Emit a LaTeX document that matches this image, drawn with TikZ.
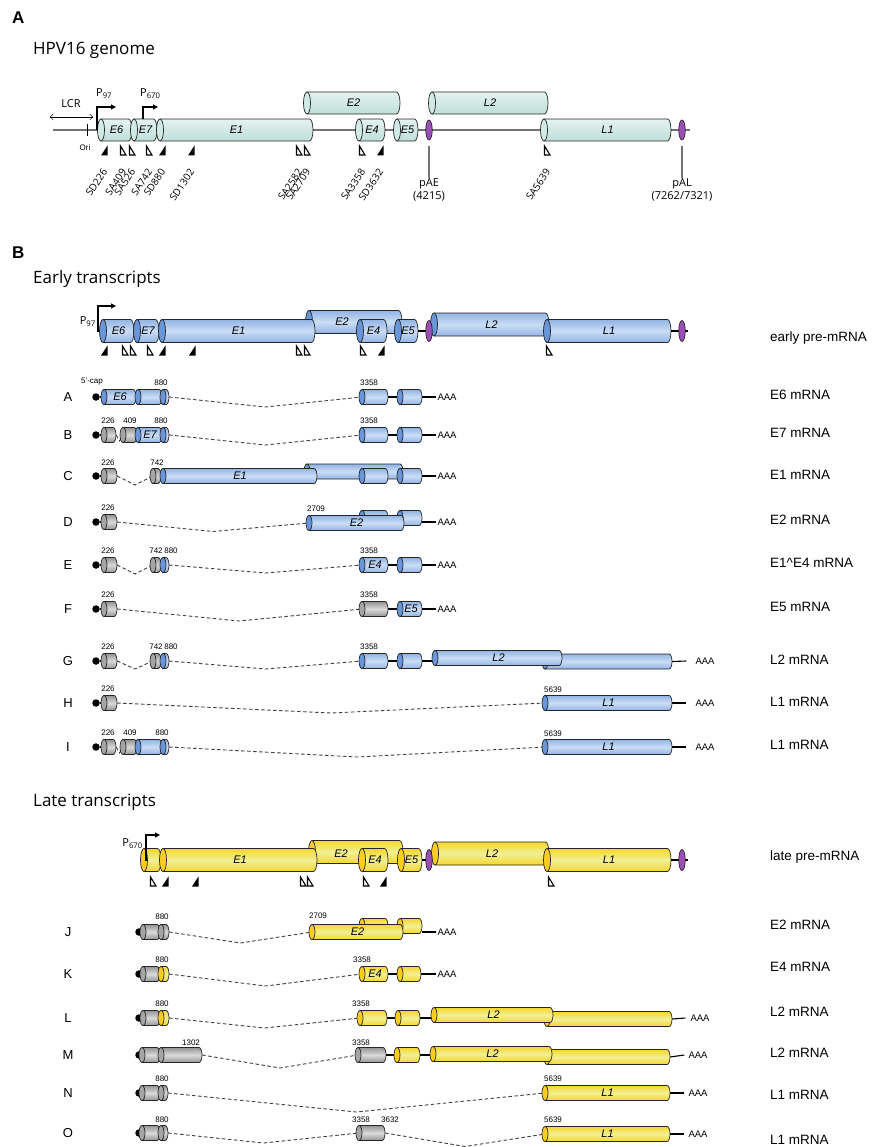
\documentclass[tikz,border=0pt]{standalone}
\usepackage{fontspec}
\setmainfont{Liberation Sans}
\newfontfamily\myriad{Open Sans}
\usetikzlibrary{shapes.geometric, arrows.meta, positioning, backgrounds, calc}
\definecolor{tealL}{RGB}{228,243,240}
\definecolor{tealD}{RGB}{190,222,216}
\definecolor{tealM}{RGB}{208,234,229}
\definecolor{blueD}{RGB}{146,180,228}
\definecolor{blueL}{RGB}{203,221,244}
\definecolor{blueC}{RGB}{104,150,216}
\definecolor{yelD}{RGB}{247,214,45}
\definecolor{yelL}{RGB}{240,240,150}
\definecolor{yelC}{RGB}{250,205,30}
\definecolor{grD}{RGB}{148,148,148}
\definecolor{grL}{RGB}{218,218,218}
\definecolor{grC}{RGB}{165,165,165}
\definecolor{purp}{RGB}{155,80,182}

% exon cylinder: [style]{name}{x left}{x right}{y}{label}
\def\eh{11}
\def\ec{3.5}
\newcommand{\exon}[6][exB]{%
  \path[#1] (#3,#5-\eh) -- ({#4-\ec},#5-\eh)
    arc[start angle=-90, end angle=90, x radius=\ec, y radius=\eh] -- (#3,#5+\eh) -- cycle;
  \path[#1cap] (#3,#5) ellipse[x radius=\ec, y radius=\eh];
  \node[exlbl, minimum width={#4pt-#3pt}, minimum height={2pt*\eh}] (#2) at ({(#3+#4)/2},#5) {#6};
}
\newcommand{\link}[2]{\begin{pgfonlayer}{background}\draw[ln] (#1) -- (#2);\end{pgfonlayer}}
\newcommand{\intron}[3][10]{\begin{pgfonlayer}{background}
  \draw[spl] (#2.east) -- ($(#2.east)!0.5!(#3.west)+(0,#1)$) -- (#3.west);\end{pgfonlayer}}

\begin{document}
\begin{tikzpicture}[x=1pt, y=-1pt,
    exA/.style={draw=black!85, line width=0.7pt, top color=tealL, bottom color=tealD},
    exAcap/.style={draw=black!85, line width=0.7pt, fill=tealM},
    exB/.style={draw=black!85, line width=0.7pt, top color=blueD, bottom color=blueD, middle color=blueL},
    exBcap/.style={draw=black!85, line width=0.7pt, fill=blueC},
    exY/.style={draw=black!85, line width=0.7pt, top color=yelD, bottom color=yelD, middle color=yelL},
    exYcap/.style={draw=black!85, line width=0.7pt, fill=yelC},
    exG/.style={draw=black!85, line width=0.7pt, top color=grD, bottom color=grD, middle color=grL},
    exGcap/.style={draw=black!85, line width=0.7pt, fill=grC},
    exlbl/.style={inner sep=0pt, font=\fontsize{11}{12}\selectfont\itshape},
    pa/.style={ellipse, draw=black!85, line width=0.7pt, fill=purp, inner sep=0pt, minimum width=6.5pt, minimum height=20pt},
    gline/.style={draw=black!55, line width=1.4pt},
    ln/.style={draw=black, line width=1.1pt},
    spl/.style={draw=black!75, line width=0.9pt, dash pattern=on 3.5pt off 2.5pt},
    prom/.style={draw=black, line width=1.1pt, -{Triangle[length=5pt, width=5pt]}},
    capdot/.style={circle, fill=black, inner sep=0pt, minimum size=7.5pt},
    num/.style={inner sep=0pt, font=\fontsize{8}{9}\selectfont},
    aaa/.style={inner sep=1pt, font=\fontsize{9.5}{10}\selectfont},
    rowl/.style={inner sep=0pt, font=\fontsize{13}{14}\selectfont},
    mrna/.style={anchor=west, inner sep=0pt, font=\fontsize{13.5}{15}\selectfont},
    head/.style={anchor=west, inner sep=0pt, font=\bfseries\fontsize{17}{20}\selectfont},
    title/.style={anchor=west, inner sep=0pt, font=\myriad\fontsize{17}{20}\selectfont},
    lab/.style={inner sep=0pt, font=\myriad\fontsize{11}{13}\selectfont},
    site/.style={inner sep=0pt, font=\myriad\fontsize{10}{12}\selectfont, anchor=east, rotate=56},
    donor/.pic={\fill[black] (3.5,-5.5) -- (3.5,4.5) -- (-3,4.5) -- cycle;},
    acceptor/.pic={\draw[line width=1.1pt, line join=miter] (-2.5,-5) -- (-2.5,4) -- (3,4) -- cycle;}]
\useasboundingbox (0,0) rectangle (875,1147);
\begin{pgfonlayer}{background}
  \fill[white] (0,0) rectangle (875,1147);
\end{pgfonlayer}

% ---------- A: genome
\node[head] (hA) at (12,18) {A};
\node[title] (tA) at (33,50) {HPV16 genome};
\coordinate (gl) at (53,130);
\coordinate (gr) at (690,130);
\draw[gline] (gl) -- (gr);
\coordinate (lcrL) at (50,117);
\coordinate (lcrR) at (93,117);
\draw[thin, {Straight Barb[length=3pt]}-{Straight Barb[length=3pt]}] (lcrL) -- (lcrR);
\node[lab] (lcr) at (71,104) {LCR};
\draw[thin] (87,124) -- (87,136);
\node[num] (ori) at (85,148) {Ori};
\exon[exA]{a6}{101}{132}{130}{E6}
\exon[exA]{a7}{134}{157}{130}{E7}
\exon[exA]{a1}{160}{313}{130}{E1}
\exon[exA]{a4}{359}{385}{130}{E4}
\exon[exA]{a5}{397}{418}{130}{E5}
\exon[exA]{aL1}{544}{671}{130}{L1}
\exon[exA]{a2}{307}{400}{103}{E2}
\exon[exA]{aL2}{432}{548}{103}{L2}
\node[pa] (pAE) at (429,130) {};
\node[pa] (pAL) at (682,130) {};
\draw[prom] (97,130) |- (116,107);
\node[lab, anchor=west] (p97) at (96,94) {P\textsubscript{97}};
\draw[prom] (143,119) |- (158,107);
\node[lab, anchor=west] (p670) at (140,94) {P\textsubscript{670}};
\node[lab, anchor=north, align=center] (pAEl) at (429,178) {pAE\\(4215)};
\node[lab, anchor=north, align=center] (pALl) at (682,178) {pAL\\(7262/7321)};
\draw[gline] ($(pAE.south)+(0,6)$) -- (pAEl.north);
\draw[gline] ($(pAL.south)+(0,6)$) -- (pALl.north);
\foreach \x in {104,162,191,380} \pic at (\x,151) {donor};
\foreach \x in {123,132,149,299,307,362,547} \pic at (\x,151) {acceptor};
\foreach \x/\t in {104/SD226, 123/SA409, 132/SA526, 149/SA742, 162/SD880, 191/SD1302,
    299/SA2582, 307/SA2709, 362/SA3358, 380/SD3632, 547/SA5639}
  \node[site] at (\x+1,170) {\t};

% ---------- B: early transcripts
\node[head] (hB) at (12,253) {B};
\node[title] (tB) at (33,279) {Early transcripts};
\def\eh{11.5}
\exon{b2}{309}{402}{322}{}
\exon{b6}{103}{134}{331}{E6}
\exon{b7}{137}{159}{331}{E7}
\exon{b1}{162}{315}{331}{E1}
\exon{b4}{360}{387}{331}{E4}
\exon{b5}{398}{418}{331}{E5}
\exon{bL2}{434}{549}{324.5}{L2}
\exon{bL1}{547}{671}{331}{L1}
\node[exlbl] (b2l) at (342,322) {E2};
\node[pa, minimum height=21pt] (bpAE) at (429,331) {};
\node[pa, minimum height=21pt] (bpAL) at (682,331) {};
\coordinate (bEnd) at (688,331);
\link{b6.west}{bEnd}
\draw[prom] (98,332) |- (116,306);
\node[lab, anchor=east] (bp97) at (96,322) {P\textsubscript{97}};
\foreach \x in {104,162,192,381} \pic at (\x,351) {donor};
\foreach \x in {125,133,150,299,307,363,549} \pic at (\x,351) {acceptor};
\node[mrna] (mpre) at (770,338) {early pre-mRNA};

\def\eh{7.5}\def\ec{3}
% A
\node[rowl] (rA) at (68,397) {A};
\node[capdot] (A0) at (96,397) {};
\exon{A1}{104}{136}{397}{E6}
\exon{A2}{138}{162}{397}{}
\exon{A3}{163}{169}{397}{}
\exon{A4}{362}{388}{397}{}
\exon{A5}{400}{422}{397}{}
\node[aaa] (Aaaa) at (447,397) {AAA};
\node[num] at (92,382) {5’-cap};
\node[num] at (161,383) {880};
\node[num] at (369,383) {3358};
\link{A0}{A1.west} \intron{A3}{A4} \link{A4.east}{A5.west} \link{A5.east}{Aaaa.west}
\node[mrna] (mA) at (770,395) {E6 mRNA};
% B
\node[rowl] (rB) at (68,435) {B};
\node[capdot] (B0) at (96,435) {};
\exon[exG]{B1}{104}{116}{435}{}
\exon[exG]{B2}{123}{137}{435}{}
\exon{B3}{138}{162}{435}{E7}
\exon{B4}{163}{169}{435}{}
\exon{B5}{362}{388}{435}{}
\exon{B6}{400}{422}{435}{}
\node[aaa] (Baaa) at (447,435) {AAA};
\node[num] at (108,421) {226};
\node[num] at (130,421) {409};
\node[num] at (161,421) {880};
\node[num] at (369,421) {3358};
\link{B0}{B1.west} \intron[6]{B1}{B2} \intron{B4}{B5} \link{B5.east}{B6.west} \link{B6.east}{Baaa.west}
\node[mrna] (mB) at (770,433) {E7 mRNA};
% C
\node[rowl] (rC) at (68,476) {C};
\node[capdot] (C0) at (96,476) {};
\exon[exG]{C1}{104}{117}{476}{}
\exon[exG]{C2}{153}{161}{476}{}
\exon{C3}{307}{403}{471.5}{}
\exon{C4}{163}{317}{476}{E1}
\exon{C5}{362}{388}{476}{}
\exon{C6}{400}{422}{476}{}
\node[aaa] (Caaa) at (447,476) {AAA};
\node[num] at (108,463) {226};
\node[num] at (157,463) {742};
\link{C0}{C1.west} \intron[9]{C1}{C2} \link{C6.east}{Caaa.west}
\node[mrna] (mC) at (770,475) {E1 mRNA};
% D
\node[rowl] (rD) at (68,522) {D};
\node[capdot] (D0) at (96,522) {};
\exon[exG]{D1}{104}{117}{522}{}
\exon{D4}{362}{388}{518}{}
\exon{D5}{400}{422}{518}{}
\exon{D2}{309}{404}{523}{E2}
\node[aaa] (Daaa) at (447,522) {AAA};
\node[num] at (108,508) {226};
\node[num] at (316,509) {2709};
\link{D0}{D1.west} \intron[9]{D1}{D2} \link{Daaa.west}{Daaa.west -| D5.east}
\node[mrna] (mD) at (770,520) {E2 mRNA};
% E
\node[rowl] (rE) at (68,565) {E};
\node[capdot] (E0) at (96,565) {};
\exon[exG]{E1}{104}{117}{565}{}
\exon[exG]{E2}{153}{161}{565}{}
\exon{E3}{163}{169}{565}{}
\exon{E4}{362}{388}{565}{E4}
\exon{E5}{400}{422}{565}{}
\node[aaa] (Eaaa) at (447,565) {AAA};
\node[num] at (108,551) {226};
\node[num] at (156,551) {742};
\node[num] at (171,551) {880};
\node[num] at (369,551) {3358};
\link{E0}{E1.west} \intron[9]{E1}{E2} \intron[8]{E3}{E4} \link{E4.east}{E5.west} \link{E5.east}{Eaaa.west}
\node[mrna] (mE) at (770,563) {E1\^{}E4 mRNA};
% F
\node[rowl] (rF) at (68,609) {F};
\node[capdot] (F0) at (96,609) {};
\exon[exG]{F1}{104}{117}{609}{}
\exon[exG]{F2}{362}{388}{609}{}
\exon{F3}{400}{422}{609}{E5}
\node[aaa] (Faaa) at (447,609) {AAA};
\node[num] at (108,595) {226};
\node[num] at (369,595) {3358};
\link{F0}{F1.west} \intron[12]{F1}{F2} \link{F2.east}{F3.west} \link{F3.east}{Faaa.west}
\node[mrna] (mF) at (770,607) {E5 mRNA};
% G
\node[rowl] (rG) at (68,661) {G};
\node[capdot] (G0) at (96,661) {};
\exon[exG]{G1}{104}{117}{661}{}
\exon[exG]{G2}{153}{161}{661}{}
\exon{G3}{163}{169}{661}{}
\exon{G4}{362}{388}{661}{}
\exon{G5}{400}{422}{661}{}
\exon{G7}{545}{672}{661.5}{}
\exon{G6}{435}{562}{658}{L2}
\node[aaa] (Gaaa) at (705,661) {AAA};
\node[num] at (108,647) {226};
\node[num] at (156,647) {742};
\node[num] at (171,647) {880};
\node[num] at (369,647) {3358};
\link{G0}{G1.west} \intron[8]{G1}{G2} \intron[8]{G3}{G4} \link{G4.east}{G5.west}
\link{G5.east}{G5.east -| G6.west} \link{G7.east}{$(Gaaa.west)+(-8,0)$}
\node[mrna] (mG) at (770,660) {L2 mRNA};
% H
\node[rowl] (rH) at (68,703) {H};
\node[capdot] (H0) at (96,703) {};
\exon[exG]{H1}{104}{117}{703}{}
\exon{H2}{545}{672}{703}{L1}
\node[aaa] (Haaa) at (705,703) {AAA};
\node[num] at (108,689) {226};
\node[num] at (553,690) {5639};
\link{H0}{H1.west} \intron[10]{H1}{H2} \link{H2.east}{$(Haaa.west)+(-8,0)$}
\node[mrna] (mH) at (770,702) {L1 mRNA};
% I
\node[rowl] (rI) at (68,747) {I};
\node[capdot] (I0) at (96,747) {};
\exon[exG]{I1}{104}{116}{747}{}
\exon[exG]{I2}{123}{137}{747}{}
\exon{I3}{138}{162}{747}{}
\exon{I4}{163}{169}{747}{}
\exon{I5}{545}{672}{747}{L1}
\node[aaa] (Iaaa) at (705,747) {AAA};
\node[num] at (108,733) {226};
\node[num] at (130,733) {409};
\node[num] at (162,733) {880};
\node[num] at (553,734) {5639};
\link{I0}{I1.west} \intron[6]{I1}{I2} \intron[10]{I4}{I5} \link{I5.east}{$(Iaaa.west)+(-8,0)$}
\node[mrna] (mI) at (770,745) {L1 mRNA};

% ---------- late transcripts
\node[title] (tC) at (33,802) {Late transcripts};
\def\eh{11.5}\def\ec{3.5}
\exon[exY]{y2}{312}{403}{852}{}
\exon[exY]{y7}{144}{161}{860}{}
\exon[exY]{y1}{163}{317}{860}{E1}
\exon[exY]{y4}{362}{388}{860}{E4}
\exon[exY]{y5}{401}{422}{860}{E5}
\exon[exY]{yL2}{435}{549}{853.5}{L2}
\exon[exY]{yL1}{547}{671}{860}{L1}
\node[exlbl] (y2l) at (341,854) {E2};
\node[pa, minimum height=21pt] (ypAE) at (429,860) {};
\node[pa, minimum height=21pt] (ypAL) at (682,860) {};
\coordinate (yEnd) at (688,860);
\link{y7.west}{yEnd}
\draw[prom] (146,861) |- (160,835);
\node[lab, anchor=east] (yp670) at (143,844) {P\textsubscript{670}};
\foreach \x in {165,195,383} \pic at (\x,882) {donor};
\foreach \x in {153,303,310,366,551} \pic at (\x,882) {acceptor};
\node[mrna] (mlate) at (770,857) {late pre-mRNA};

\def\eh{7.5}\def\ec{3}
% J
\node[rowl] (rJ) at (68,932) {J};
\node[capdot] (J0) at (139,932) {};
\exon[exG]{J1}{143}{160}{932}{}
\exon[exG]{J2}{161}{169}{932}{}
\exon[exY]{J4}{362}{388}{926}{}
\exon[exY]{J5}{400}{422}{926}{}
\exon[exY]{J3}{312}{403}{932}{E2}
\node[aaa] (Jaaa) at (447,932) {AAA};
\node[num] at (162,917) {880};
\node[num] at (318,916) {2709};
\link{J0}{J1.west} \intron[11]{J2}{J3} \link{Jaaa.west}{Jaaa.west -| J5.east}
\node[mrna] (mJ) at (770,925) {E2 mRNA};
% K
\node[rowl] (rK) at (68,974) {K};
\node[capdot] (K0) at (139,974) {};
\exon[exG]{K1}{143}{160}{974}{}
\exon[exY]{K2}{161}{169}{974}{}
\exon[exY]{K3}{362}{388}{974}{E4}
\exon[exY]{K4}{400}{421}{974}{}
\node[aaa] (Kaaa) at (447,974) {AAA};
\node[num] at (162,960) {880};
\node[num] at (362,960) {3358};
\link{K0}{K1.west} \intron[12]{K2}{K3} \link{K3.east}{K4.west} \link{K4.east}{Kaaa.west}
\node[mrna] (mK) at (770,967) {E4 mRNA};
% L
\node[rowl] (rL) at (68,1018) {L};
\node[capdot] (L0) at (139,1018) {};
\exon[exG]{L1}{143}{160}{1018}{}
\exon[exY]{L2}{161}{169}{1018}{}
\exon[exY]{L3}{360}{387}{1018}{}
\exon[exY]{L4}{398}{420}{1018}{}
\exon[exY]{L6}{547}{672}{1019}{}
\exon[exY]{L5}{434}{553}{1015}{L2}
\node[aaa] (Laaa) at (700,1018) {AAA};
\node[num] at (162,1004) {880};
\node[num] at (361,1004) {3358};
\link{L0}{L1.west} \intron[10]{L2}{L3} \link{L3.east}{L4.west} \link{L4.east}{L4.east -| L5.west}
\link{L6.east}{$(Laaa.west)+(-4,0)$}
\node[mrna] (mL) at (770,1012) {L2 mRNA};
% M
\node[rowl] (rM) at (68,1055) {M};
\node[capdot] (M0) at (139,1055) {};
\exon[exG]{M1}{142}{160}{1055}{}
\exon[exG]{M2}{161}{202}{1055}{}
\exon[exG]{M3}{358}{386}{1055}{}
\exon[exY]{M4}{397}{420}{1055}{}
\exon[exY]{M6}{547}{670}{1057}{}
\exon[exY]{M5}{433}{552}{1054}{L2}
\node[aaa] (Maaa) at (698,1055) {AAA};
\node[num] at (191,1043) {1302};
\node[num] at (361,1043) {3358};
\link{M0}{M1.west} \intron[13]{M2}{M3} \link{M3.east}{M4.west} \link{M4.east}{M4.east -| M5.west}
\link{M6.east}{$(Maaa.west)+(-3,0)$}
\node[mrna] (mM) at (770,1053) {L2 mRNA};
% N
\node[rowl] (rN) at (68,1093) {N};
\node[capdot] (N0) at (139,1093) {};
\exon[exG]{N1}{142}{160}{1093}{}
\exon[exG]{N2}{161}{168}{1093}{}
\exon[exY]{N3}{545}{670}{1093}{L1}
\node[aaa] (Naaa) at (698,1093) {AAA};
\node[num] at (162,1079) {880};
\node[num] at (553,1079) {5639};
\link{N0}{N1.west} \intron[19]{N2}{N3} \link{N3.east}{$(Naaa.west)+(-3,0)$}
\node[mrna] (mN) at (770,1095) {L1 mRNA};
% O
\node[rowl] (rO) at (68,1133) {O};
\node[capdot] (O0) at (139,1133) {};
\exon[exG]{O1}{142}{160}{1133}{}
\exon[exG]{O2}{161}{168}{1133}{}
\exon[exG]{O3}{359}{385}{1133}{}
\exon[exY]{O4}{545}{670}{1134}{L1}
\node[aaa] (Oaaa) at (698,1134) {AAA};
\node[num] at (162,1120) {880};
\node[num] at (361,1120) {3358};
\node[num] at (390,1120) {3632};
\node[num] at (553,1120) {5639};
\link{O0}{O1.west} \intron[10]{O2}{O3} \intron[13]{O3}{O4} \link{O4.east}{$(Oaaa.west)+(-3,0)$}
\node[mrna] (mO) at (770,1140) {L1 mRNA};
\end{tikzpicture}
\end{document}
